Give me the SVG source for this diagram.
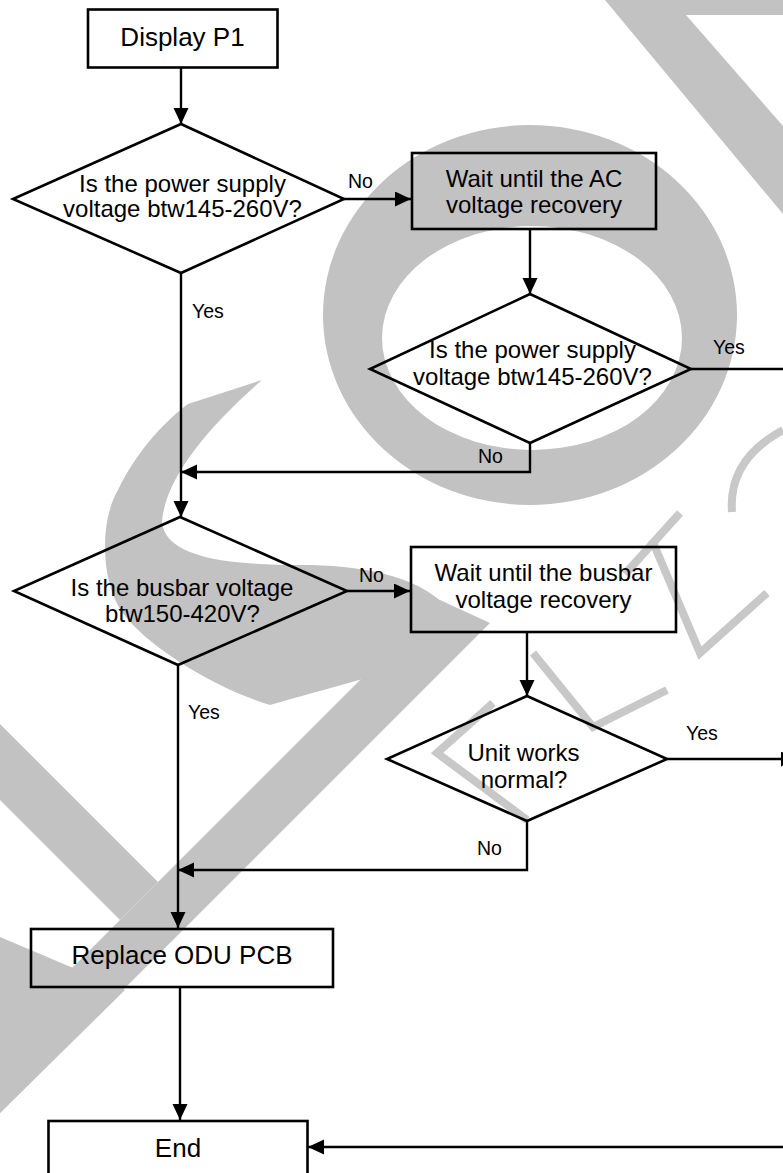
<svg xmlns="http://www.w3.org/2000/svg" width="783" height="1173" viewBox="0 0 783 1173">
<style>
.wm{fill:#c2c2c2;stroke:none}
.wl{fill:none;stroke:#c8c8c8;stroke-width:8;stroke-linejoin:miter}
.shape{fill:none;stroke:#000;stroke-width:2.6}
.conn{fill:none;stroke:#000;stroke-width:2.4}
.t{font-family:"Liberation Sans",Arial,Helvetica,sans-serif;fill:#000;text-anchor:middle}
.big{font-size:26px}
.mid{font-size:24px}
.lbl{font-family:"Liberation Sans",Arial,Helvetica,sans-serif;fill:#000;font-size:19.5px}
</style>
<defs>
<marker id="ah" markerUnits="userSpaceOnUse" markerWidth="17" markerHeight="16" refX="16" refY="7.5" orient="auto"><path d="M0,0 L16,7.5 L0,15 Z" fill="#000"/></marker>
</defs>
<rect width="783" height="1173" fill="#fff"/>
<g id="watermark">
<path class="wm" fill-rule="evenodd" d="M323,315 A207,190 0 1,0 737,315 A207,190 0 1,0 323,315 Z M382,338 A150,112 0 1,0 682,338 A150,112 0 1,0 382,338 Z"/>
<polygon class="wm" points="605,0 783,0 783,15 686,15 783,126 783,214"/>
<path class="wm" d="M188,404 L262,380 C205,430 165,480 162,522 C165,558 230,565 300,565 C360,565 415,575 445,605 L470,640 C400,672 320,690 270,705 C220,690 150,650 122,612 C100,580 100,520 118,490 C135,455 160,425 188,404 Z"/>
<polygon class="wm" points="440,600 490,623 0,1113 0,1040"/>
<polygon class="wm" points="0,937 125,990 0,1113"/>
<polygon class="wm" points="0,724 158,882 120,920 0,800"/>
<polyline class="wl" points="652,540 700,653 767,593"/>
<polyline class="wl" points="533,653 593,727 667,690"/>
<polyline class="wl" points="493,703 437,753 527,820"/>
<path class="wl" d="M783,430 Q728,460 732,512"/>
<line class="wl" x1="680" y1="513" x2="625" y2="574"/>
</g>
<g id="connectors">
<line class="conn" x1="181" y1="68" x2="181" y2="124" marker-end="url(#ah)"/>
<line class="conn" x1="344" y1="199" x2="411" y2="199" marker-end="url(#ah)"/>
<line class="conn" x1="530" y1="229" x2="530" y2="294" marker-end="url(#ah)"/>
<polyline class="conn" points="530,443 530,472 181,472" marker-end="url(#ah)"/>
<line class="conn" x1="181" y1="273" x2="181" y2="517" marker-end="url(#ah)"/>
<line class="conn" x1="347" y1="591" x2="410" y2="591" marker-end="url(#ah)"/>
<line class="conn" x1="527" y1="632" x2="527" y2="696" marker-end="url(#ah)"/>
<line class="conn" x1="667" y1="759" x2="797" y2="759" marker-end="url(#ah)"/>
<polyline class="conn" points="527,821 527,870 178,870" marker-end="url(#ah)"/>
<line class="conn" x1="178" y1="665" x2="178" y2="928" marker-end="url(#ah)"/>
<line class="conn" x1="180" y1="987" x2="180" y2="1120" marker-end="url(#ah)"/>
<polyline class="conn" points="691,369 797,369 797,1147 308,1147" marker-end="url(#ah)"/>
<text class="lbl" x="348" y="188">No</text>
<text class="lbl" x="713" y="354">Yes</text>
<text class="lbl" x="478" y="463">No</text>
<text class="lbl" x="192" y="318">Yes</text>
<text class="lbl" x="359" y="582">No</text>
<text class="lbl" x="188" y="719">Yes</text>
<text class="lbl" x="686" y="740">Yes</text>
<text class="lbl" x="477" y="855">No</text>
</g>
<g id="n_display">
<rect class="shape" x="88" y="9.5" width="189.5" height="58"/>
<text class="t big" x="182.5" y="46">Display P1</text>
</g>
<g id="n_q1">
<polygon class="shape" points="181,124 344,199 181,273 13,199"/>
<text class="t mid" x="182.5" y="192">Is the power supply</text>
<text class="t mid" x="182.5" y="217">voltage btw145-260V?</text>
</g>
<g id="n_waitac">
<rect class="shape" x="412" y="153" width="244" height="76"/>
<text class="t mid" x="534" y="187">Wait until the AC</text>
<text class="t mid" x="534" y="213">voltage recovery</text>
</g>
<g id="n_q2">
<polygon class="shape" points="530,294 691,369 530,443 370,369"/>
<text class="t mid" x="532.5" y="358">Is the power supply</text>
<text class="t mid" x="532.5" y="385">voltage btw145-260V?</text>
</g>
<g id="n_q3">
<polygon class="shape" points="180,517 347,591 178,665 14,591"/>
<text class="t mid" x="182" y="596">Is the busbar voltage</text>
<text class="t mid" x="182.5" y="622">btw150-420V?</text>
</g>
<g id="n_waitbus">
<rect class="shape" x="411" y="547" width="265" height="85"/>
<text class="t mid" x="543.5" y="581">Wait until the busbar</text>
<text class="t mid" x="543.5" y="608">voltage recovery</text>
</g>
<g id="n_q4">
<polygon class="shape" points="527,696 667,759 527,821 387,759"/>
<text class="t mid" x="523.5" y="761">Unit works</text>
<text class="t mid" x="524" y="788">normal?</text>
</g>
<g id="n_replace">
<rect class="shape" x="31" y="929" width="302" height="58"/>
<text class="t big" x="182" y="964">Replace ODU PCB</text>
</g>
<g id="n_end">
<rect class="shape" x="48.5" y="1121" width="259" height="70"/>
<text class="t big" x="178" y="1157">End</text>
</g>
</svg>
